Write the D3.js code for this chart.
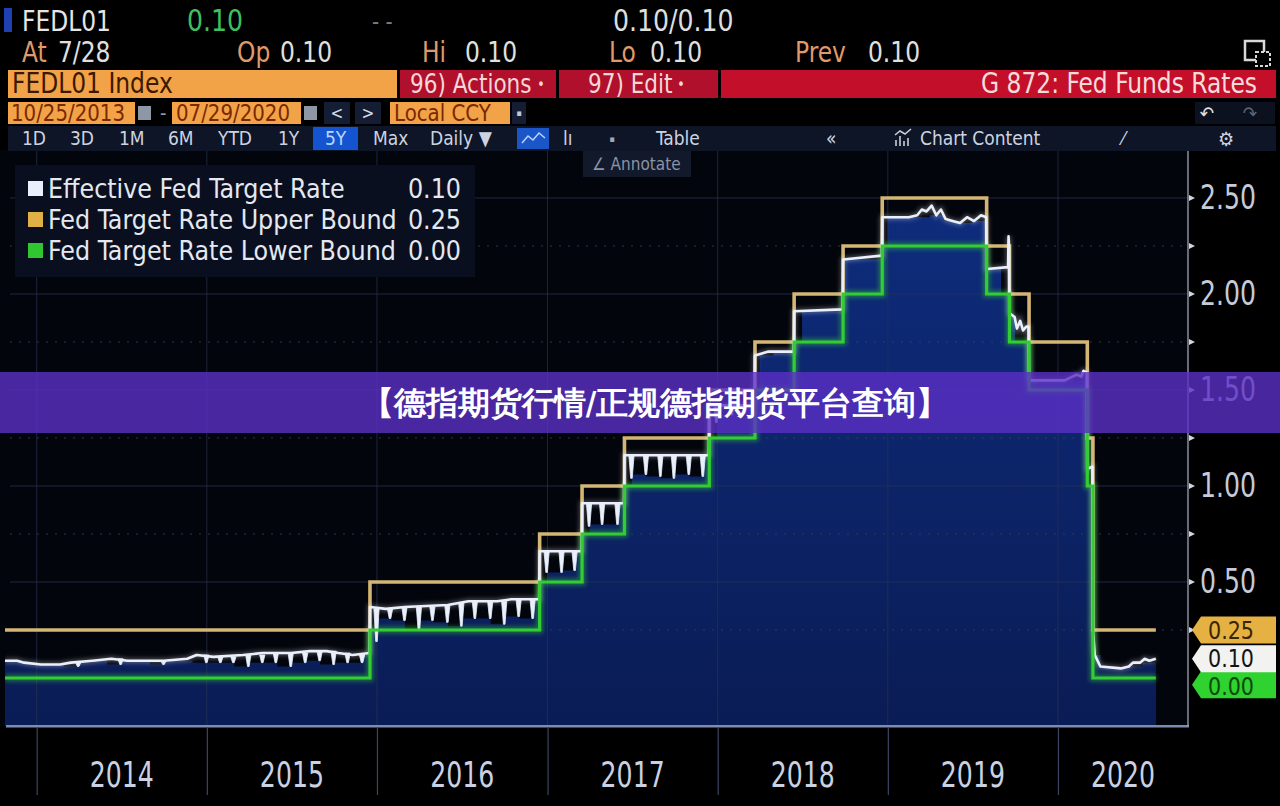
<!DOCTYPE html>
<html><head><meta charset="utf-8">
<script src="https://cdn.jsdelivr.net/npm/d3@7"></script>
<style>
body{margin:0;background:#000;overflow:hidden}
svg{display:block}
text{font-family:"DejaVu Sans Condensed","DejaVu Sans",sans-serif}
</style>
</head><body>
<svg id="c" width="1280" height="806"></svg>
<script>
// ---------------- DATA ----------------
const startDate = "2013-10-25";
const endDate = "2020-07-29";
const upperBound = [["2013-10-25",0.25],["2015-12-17",0.50],["2016-12-15",0.75],["2017-03-16",1.00],["2017-06-15",1.25],["2017-12-14",1.50],["2018-03-22",1.75],["2018-06-14",2.00],["2018-09-27",2.25],["2018-12-20",2.50],["2019-08-01",2.25],["2019-09-19",2.00],["2019-10-31",1.75],["2020-03-04",1.25],["2020-03-16",0.25]];
const lowerBound = [["2013-10-25",0.00],["2015-12-17",0.25],["2016-12-15",0.50],["2017-03-16",0.75],["2017-06-15",1.00],["2017-12-14",1.25],["2018-03-22",1.50],["2018-06-14",1.75],["2018-09-27",2.00],["2018-12-20",2.25],["2019-08-01",2.00],["2019-09-19",1.75],["2019-10-31",1.50],["2020-03-04",1.00],["2020-03-16",0.00]];
const effectiveRate = [["2013-10-25",0.09],["2013-11-20",0.09],["2013-12-05",0.08],["2014-01-10",0.07],["2014-02-20",0.07],["2014-03-15",0.08],["2014-05-01",0.09],["2014-06-10",0.10],["2014-07-15",0.09],["2014-10-01",0.09],["2014-11-20",0.10],["2014-12-10",0.12],["2015-01-15",0.11],["2015-03-20",0.12],["2015-05-01",0.13],["2015-07-01",0.13],["2015-08-10",0.14],["2015-09-15",0.14],["2015-10-10",0.13],["2015-11-10",0.12],["2015-12-16",0.13],["2015-12-17",0.37],["2016-01-20",0.36],["2016-03-01",0.37],["2016-06-01",0.38],["2016-07-15",0.40],["2016-09-15",0.40],["2016-10-15",0.41],["2016-12-14",0.41],["2016-12-15",0.66],["2017-03-15",0.66],["2017-03-16",0.91],["2017-06-14",0.91],["2017-06-15",1.16],["2017-12-13",1.16],["2017-12-14",1.42],["2018-03-21",1.42],["2018-03-22",1.68],["2018-04-20",1.70],["2018-06-13",1.70],["2018-06-14",1.91],["2018-09-26",1.92],["2018-09-27",2.18],["2018-12-19",2.20],["2018-12-20",2.40],["2019-02-15",2.40],["2019-03-05",2.41],["2019-03-15",2.44],["2019-03-25",2.43],["2019-04-05",2.46],["2019-04-15",2.41],["2019-04-25",2.44],["2019-05-05",2.39],["2019-05-20",2.38],["2019-06-05",2.37],["2019-06-20",2.40],["2019-07-05",2.38],["2019-07-20",2.41],["2019-07-31",2.40],["2019-08-01",2.13],["2019-09-16",2.14],["2019-09-17",2.30],["2019-09-18",2.25],["2019-09-19",1.90],["2019-09-30",1.88],["2019-10-05",1.82],["2019-10-12",1.86],["2019-10-18",1.81],["2019-10-25",1.83],["2019-10-30",1.83],["2019-10-31",1.55],["2019-12-01",1.55],["2020-01-15",1.55],["2020-02-10",1.58],["2020-02-20",1.57],["2020-02-25",1.60],["2020-03-03",1.59],["2020-03-04",1.09],["2020-03-15",1.10],["2020-03-16",0.25],["2020-03-20",0.12],["2020-04-01",0.06],["2020-05-15",0.05],["2020-06-01",0.06],["2020-06-10",0.08],["2020-06-25",0.08],["2020-07-05",0.10],["2020-07-15",0.09],["2020-07-29",0.10]];
// month-end dips of the effective rate: [date, level, low]
const monthEndDips = [["2014-03-31",0.08,0.06],["2014-06-30",0.10,0.07],["2014-09-30",0.09,0.07],["2014-12-31",0.12,0.08],["2015-01-30",0.11,0.08],["2015-02-27",0.11,0.08],["2015-03-31",0.12,0.06],["2015-04-30",0.12,0.08],["2015-05-29",0.13,0.08],["2015-06-30",0.13,0.06],["2015-07-31",0.13,0.08],["2015-08-31",0.14,0.09],["2015-09-30",0.14,0.07],["2015-10-30",0.13,0.08],["2015-11-30",0.12,0.08],["2015-12-31",0.36,0.19],["2016-01-29",0.36,0.31],["2016-02-29",0.37,0.30],["2016-03-31",0.37,0.25],["2016-04-29",0.37,0.30],["2016-05-31",0.38,0.29],["2016-06-30",0.39,0.27],["2016-07-29",0.40,0.31],["2016-08-31",0.40,0.31],["2016-09-30",0.40,0.28],["2016-10-31",0.41,0.32],["2016-11-30",0.41,0.31],["2016-12-30",0.66,0.55],["2017-01-31",0.66,0.55],["2017-02-28",0.66,0.56],["2017-03-31",0.91,0.79],["2017-04-28",0.91,0.80],["2017-05-31",0.91,0.80],["2017-06-30",1.16,1.04],["2017-07-31",1.16,1.06],["2017-08-31",1.16,1.05],["2017-09-29",1.16,1.04],["2017-10-31",1.16,1.06],["2017-11-30",1.16,1.05],["2017-12-29",1.42,1.33],["2018-01-31",1.42,1.37],["2018-02-28",1.42,1.38]];
const yearTicks = [2014,2015,2016,2017,2018,2019,2020];
const yTicks = [0.5,1.0,1.5,2.0,2.5];
const yMinorTicks = [0.25,0.5,0.75,1.0,1.25,1.5,1.75,2.0,2.25,2.5];
const legendNames = ["Effective Fed Target Rate","Fed Target Rate Upper Bound","Fed Target Rate Lower Bound"];
const legendValues = ["0.10","0.25","0.00"];
const lastValues = [0.10,0.25,0.00];
const bannerText = "【德指期货行情/正规德指期货平台查询】";

// ---------------- SETUP ----------------
const parse = d3.timeParse("%Y-%m-%d");
const P = {l:5, r:1188, t:150, b:726};
const x = d3.scaleTime().domain([parse("2013-10-25"), parse("2020-10-06")]).range([P.l, P.r]);
const y = d3.scaleLinear().domain([-0.25, 2.75]).range([P.b, P.t]);
const col = {eff:"#e9f0fb", up:"#d3b574", low:"#34cc34"};
const T0 = parse(startDate), T1 = parse(endDate);

const svg = d3.select("#c");
svg.append("rect").attr("width",1280).attr("height",806).attr("fill","#000");
const defs = svg.append("defs");
const g1 = defs.append("linearGradient").attr("id","fillg").attr("x1",0).attr("y1",0).attr("x2",0).attr("y2",1);
g1.append("stop").attr("offset","0%").attr("stop-color","#0e2c7c");
g1.append("stop").attr("offset","100%").attr("stop-color","#0a1c55");
defs.append("clipPath").attr("id","clip").append("rect").attr("x",P.l).attr("y",P.t).attr("width",P.r-P.l).attr("height",P.b-P.t);
const blur = defs.append("filter").attr("id","glow").attr("x","-5%").attr("y","-5%").attr("width","110%").attr("height","110%");
blur.append("feGaussianBlur").attr("stdDeviation",2.2);

// stretched text helper (the reference font is tall and narrow)
function stext(parent, xp, yp, s, fs, fill, anchor, sy){
  return parent.append("text").attr("transform",`translate(${xp},${yp}) scale(1,${sy||1.1})`)
    .attr("font-size",fs).attr("fill",fill).attr("text-anchor",anchor||"start").text(s);
}

// plot background
svg.append("rect").attr("x",0).attr("y",P.t).attr("width",P.r).attr("height",P.b-P.t).attr("fill","#03050c");

const steps = arr => arr.map(d=>({date:parse(d[0]), v:d[1]})).concat([{date:T1, v:arr[arr.length-1][1]}]);
const upper = steps(upperBound), lower = steps(lowerBound);
const eff = effectiveRate.map(d=>({date:parse(d[0]), v:d[1]}));
const dips = monthEndDips.map(d=>({date:parse(d[0]), top:d[1], low:d[2]}));

// monthly floor of effective rate (for the filled mountain)
const bis = d3.bisector(d=>d.date).right;
const months = d3.timeMonth.range(d3.timeMonth.floor(T0), T1);
const env = months.map(m=>{
  const s = m < T0 ? T0 : m;
  const e = d3.timeMonth.offset(m,1) > T1 ? T1 : d3.timeMonth.offset(m,1);
  const i = Math.max(0, bis(eff, s)-1);
  let mn = eff[i].v;
  eff.forEach(p=>{ if(p.date>=s && p.date<e) mn=Math.min(mn,p.v); });
  dips.forEach(p=>{ if(p.date>=s && p.date<e) mn=Math.min(mn,p.low); });
  return {date:s, v:mn};
});
env.push({date:T1, v:env[env.length-1].v});

const area = d3.area().curve(d3.curveStepAfter).x(d=>x(d.date)).y0(P.b).y1(d=>y(d.v));
const fillG = svg.append("g").attr("clip-path","url(#clip)");
fillG.append("path").datum(lower).attr("d",area).attr("fill","url(#fillg)");
fillG.append("path").datum(env).attr("d",area).attr("fill","url(#fillg)");

// grid (under the lines)
svg.append("g").selectAll("line").data(yMinorTicks).join("line")
  .attr("x1",10).attr("x2",P.r).attr("y1",d=>y(d)).attr("y2",d=>y(d))
  .attr("stroke",d=>Number.isInteger(d*2)?"#2a3452":"#39435e")
  .attr("stroke-opacity",0.75)
  .attr("stroke-width",1)
  .attr("stroke-dasharray",d=>Number.isInteger(d*2)?null:"2,7");
svg.append("g").selectAll("line").data(yearTicks).join("line")
  .attr("x1",d=>x(new Date(d,0,1))).attr("x2",d=>x(new Date(d,0,1)))
  .attr("y1",P.t).attr("y2",P.b).attr("stroke","#2a3350").attr("stroke-opacity",0.7);

// lines
const plot = svg.append("g").attr("clip-path","url(#clip)");
const stepLine = d3.line().curve(d3.curveStepAfter).x(d=>x(d.date)).y(d=>y(d.v));
const linLine = d3.line().x(d=>x(d.date)).y(d=>y(d.v));
plot.append("path").datum(lower).attr("d",stepLine).attr("fill","none").attr("stroke",col.low).attr("stroke-width",7).attr("stroke-opacity",0.45).attr("filter","url(#glow)");
plot.append("path").datum(upper).attr("d",stepLine).attr("fill","none").attr("stroke",col.up).attr("stroke-width",3.6);
plot.append("path").datum(eff).attr("d",linLine).attr("fill","none").attr("stroke","#ffffff").attr("stroke-width",5).attr("stroke-opacity",0.3).attr("filter","url(#glow)");
plot.append("path").datum(eff).attr("d",linLine).attr("fill","none").attr("stroke",col.eff).attr("stroke-width",2.6).attr("stroke-linejoin","round");
plot.append("g").selectAll("path").data(dips).join("path")
  .attr("d",d=>{const cx=x(d.date);return `M${cx-2.6},${y(d.top)}L${cx-0.8},${y(d.low)}L${cx+0.8},${y(d.low)}L${cx+2.6},${y(d.top)}Z`;})
  .attr("fill",col.eff).attr("stroke",col.eff).attr("stroke-width",0.8);
plot.append("path").datum(lower).attr("d",stepLine).attr("fill","none").attr("stroke",col.low).attr("stroke-width",3.2);

// x axis
svg.append("rect").attr("x",P.l+1).attr("y",P.b-1).attr("width",P.r-P.l).attr("height",2.5).attr("fill","#7d8bb0");
const xa = svg.append("g").attr("transform",`translate(0,${P.b+1})`)
  .call(d3.axisBottom(x).tickValues(yearTicks.map(d=>new Date(d,0,1))).tickSize(68).tickFormat(""));
xa.select(".domain").remove();
xa.selectAll(".tick line").attr("stroke","#3c4562").attr("stroke-width",1.2);
const xl = svg.append("g");
yearTicks.forEach(d=>{
  const a=x(new Date(d,0,1)), b=Math.min(x(new Date(d+1,0,1)),P.r);
  stext(xl,(a+b)/2,787,d,28,"#c9d1e3","middle",1.25);
});

// y axis (right)
svg.append("line").attr("x1",P.r).attr("x2",P.r).attr("y1",P.t).attr("y2",P.b).attr("stroke","#aab3c6").attr("stroke-width",1.2);
const ya = svg.append("g").attr("transform",`translate(${P.r},0)`)
  .call(d3.axisRight(y).tickValues(yTicks).tickSize(0).tickPadding(12).tickFormat(d3.format(".2f")));
ya.select(".domain").remove();
ya.selectAll("text").attr("font-size",28).attr("fill","#c6cbd8").attr("transform","scale(1,1.2)").attr("dy","0.3em");
svg.append("g").selectAll("path").data(yMinorTicks).join("path")
  .attr("d",d=>`M${P.r+1},${y(d)-3}L${P.r+7},${y(d)}L${P.r+1},${y(d)+3}Z`).attr("fill","#d0d6e2");

// last-value badges
const badgeCols = [{bg:"#f2f2f0",fg:"#141414"},{bg:"#e6b143",fg:"#3a2500"},{bg:"#2fd22f",fg:"#0b4a0b"}];
const badges = lastValues.map((v,i)=>({v, label:d3.format(".2f")(v), cy:y(v), c:badgeCols[i], i}));
const order = badges.slice().sort((a,b)=>b.v-a.v);
for(let k=1;k<order.length;k++){ if(order[k].cy < order[k-1].cy+26) order[k].cy = order[k-1].cy+26; }
const bdraw = [badges[2],badges[1],badges[0]];
const bgr = svg.append("g");
bdraw.forEach(d=>{
  bgr.append("path").attr("d",`M${P.r+4},${d.cy}L${P.r+13},${d.cy-13.5}L1276,${d.cy-13.5}L1276,${d.cy+13.5}L${P.r+13},${d.cy+13.5}Z`).attr("fill",d.c.bg);
  stext(bgr,1231,d.cy+(d.i===2?10:8.5),d.label,23,d.c.fg,"middle",1.05);
});

// legend
svg.append("rect").attr("x",15).attr("y",165).attr("width",460).attr("height",112).attr("fill","#0a0f1f");
const legCols = [col.eff,"#e0b046","#2fc62f"];
const lg = svg.append("g");
legendNames.forEach((d,i)=>{
  const yy = 188+i*31;
  lg.append("rect").attr("x",28).attr("y",yy-7).attr("width",15).attr("height",15).attr("fill",legCols[i]);
  stext(lg,48,yy+10,d,26.5,"#e4e8f0","start",1.0);
  stext(lg,461,yy+10,legendValues[i],26.5,"#e4e8f0","end",1.0);
});

// annotate dropdown
svg.append("rect").attr("x",583).attr("y",151).attr("width",108).attr("height",26).attr("fill","#11192b");
svg.append("text").attr("x",592).attr("y",170).attr("font-size",17).attr("fill","#8a93a6").text("∠ Annotate");

// ---------------- HEADER ----------------
const hdr = svg.append("g");
function tx(xp,yp,s,fs,fill,anchor,sy){ return stext(hdr,xp,yp,s,fs,fill,anchor,sy||1.08); }
hdr.append("rect").attr("x",4).attr("y",8).attr("width",8).attr("height",24).attr("fill","#1e40b0");
tx(22,31,"FEDL01",26,"#e6e6e6");
tx(187,31,"0.10",28,"#3fbf5f");
tx(372,29,"- -",22,"#7b7b7b");
tx(613,31,"0.10/0.10",28,"#dedede");
const orange = "#e09a6a";
tx(22,62,"At",26,orange); tx(58,62,"7/28",26,"#e0e0e0");
tx(237,62,"Op",26,orange); tx(280,62,"0.10",26,"#e0e0e0");
tx(422,62,"Hi",26,orange); tx(465,62,"0.10",26,"#e0e0e0");
tx(609,62,"Lo",26,orange); tx(650,62,"0.10",26,"#e0e0e0");
tx(795,62,"Prev",26,orange); tx(868,62,"0.10",26,"#e0e0e0");
// top-right icon
hdr.append("rect").attr("x",1245).attr("y",41).attr("width",19).attr("height",19).attr("fill","none").attr("stroke","#d8d8d8").attr("stroke-width",2.5);
hdr.append("rect").attr("x",1256).attr("y",52).attr("width",14).attr("height",14).attr("fill","#000").attr("stroke","#d8d8d8").attr("stroke-width",2).attr("stroke-dasharray","3,2");
// row 3
hdr.append("rect").attr("x",8).attr("y",70).attr("width",389).attr("height",28).attr("fill","#f2a347");
tx(12,93,"FEDL01 Index",26,"#3c1800");
hdr.append("rect").attr("x",400).attr("y",70).attr("width",156).attr("height",28).attr("fill","#b0102c");
tx(410,93,"96) Actions",24,"#f4d7d7");
tx(541,90,"•",14,"#f4d7d7","middle");
hdr.append("rect").attr("x",559).attr("y",70).attr("width",159).attr("height",28).attr("fill","#b0102c");
tx(588,93,"97) Edit",24,"#f4d7d7");
tx(681,90,"•",14,"#f4d7d7","middle");
hdr.append("rect").attr("x",721).attr("y",70).attr("width",555).attr("height",28).attr("fill","#c40f2b");
tx(1257,93,"G 872: Fed Funds Rates",26,"#f7dcdc","end");
// row 4
hdr.append("rect").attr("x",8).attr("y",102).attr("width",127).attr("height",22).attr("fill","#f2a347");
tx(11,121,"10/25/2013",22,"#7a2800","start",1.05);
hdr.append("rect").attr("x",138).attr("y",106).attr("width",13).attr("height",14).attr("fill","#8d97a6");
tx(160,120,"-",20,"#8d97a6");
hdr.append("rect").attr("x",172).attr("y",102).attr("width",129).attr("height",22).attr("fill","#f2a347");
tx(176,121,"07/29/2020",22,"#7a2800","start",1.05);
hdr.append("rect").attr("x",304).attr("y",106).attr("width",13).attr("height",14).attr("fill","#8d97a6");
hdr.append("rect").attr("x",324).attr("y",102).attr("width",26).attr("height",22).attr("fill","#141d33");
tx(337,119,"<",17,"#d8dce6","middle",1);
hdr.append("rect").attr("x",355).attr("y",102).attr("width",26).attr("height",22).attr("fill","#141d33");
tx(368,119,">",17,"#d8dce6","middle",1);
hdr.append("rect").attr("x",390).attr("y",102).attr("width",120).attr("height",22).attr("fill","#f2a347");
tx(394,121,"Local CCY",22,"#7a2800","start",1.05);
hdr.append("rect").attr("x",512).attr("y",102).attr("width",14).attr("height",22).attr("fill","#141d33");
tx(519,116,"▪",9,"#c0c6d2","middle",1);
hdr.append("rect").attr("x",1195).attr("y",102).attr("width",80).attr("height",22).attr("fill","#0c1120");
tx(1207,120,"↶",19,"#e0e0e0","middle",1);
tx(1250,120,"↷",19,"#5c6372","middle",1);
// row 5 toolbar
hdr.append("rect").attr("x",8).attr("y",126).attr("width",1268).attr("height",25).attr("fill","#0d1526");
hdr.append("rect").attr("x",313).attr("y",127).attr("width",45).attr("height",23).attr("fill","#1554d0");
const tb = [[22,"1D"],[70,"3D"],[119,"1M"],[168,"6M"],[218,"YTD"],[278,"1Y"],[325,"5Y"],[373,"Max"],[430,"Daily ▼"],[563,"lı"],[656,"Table"],[826,"«"],[920,"Chart Content"],[1122,"⁄"]];
tb.forEach(d=>tx(d[0],145,d[1],19,d[1]==="5Y"?"#b9d8ff":"#cdd3e0","start",1.05));
hdr.append("rect").attr("x",517).attr("y",128).attr("width",32).attr("height",21).attr("fill","#1a56c8");
hdr.append("path").attr("d","M522,143L528,136L533,140L539,133L545,138").attr("fill","none").attr("stroke","#bcd4ff").attr("stroke-width",1.5);
tx(612,142,"▪",9,"#a0a8b8","middle",1);
hdr.append("path").attr("d","M896,146L896,140M900,146L900,136M904,146L904,141M908,146L908,138M895,135L900,131L905,134L911,129").attr("stroke","#c8ced9").attr("stroke-width",1.6).attr("fill","none");
tx(1226,146,"⚙",20,"#cdd3e0","middle",1);

// ---------------- BANNER ----------------
svg.append("rect").attr("x",0).attr("y",372).attr("width",1280).attr("height",61).attr("fill","#5a30c6").attr("fill-opacity",0.8);
svg.append("text").attr("x",655).attr("y",414).attr("text-anchor","middle").attr("font-size",32).attr("font-weight",700)
  .attr("font-family",'"Noto Sans CJK SC",sans-serif').attr("fill","#ffffff").text(bannerText);
</script>
</body></html>
